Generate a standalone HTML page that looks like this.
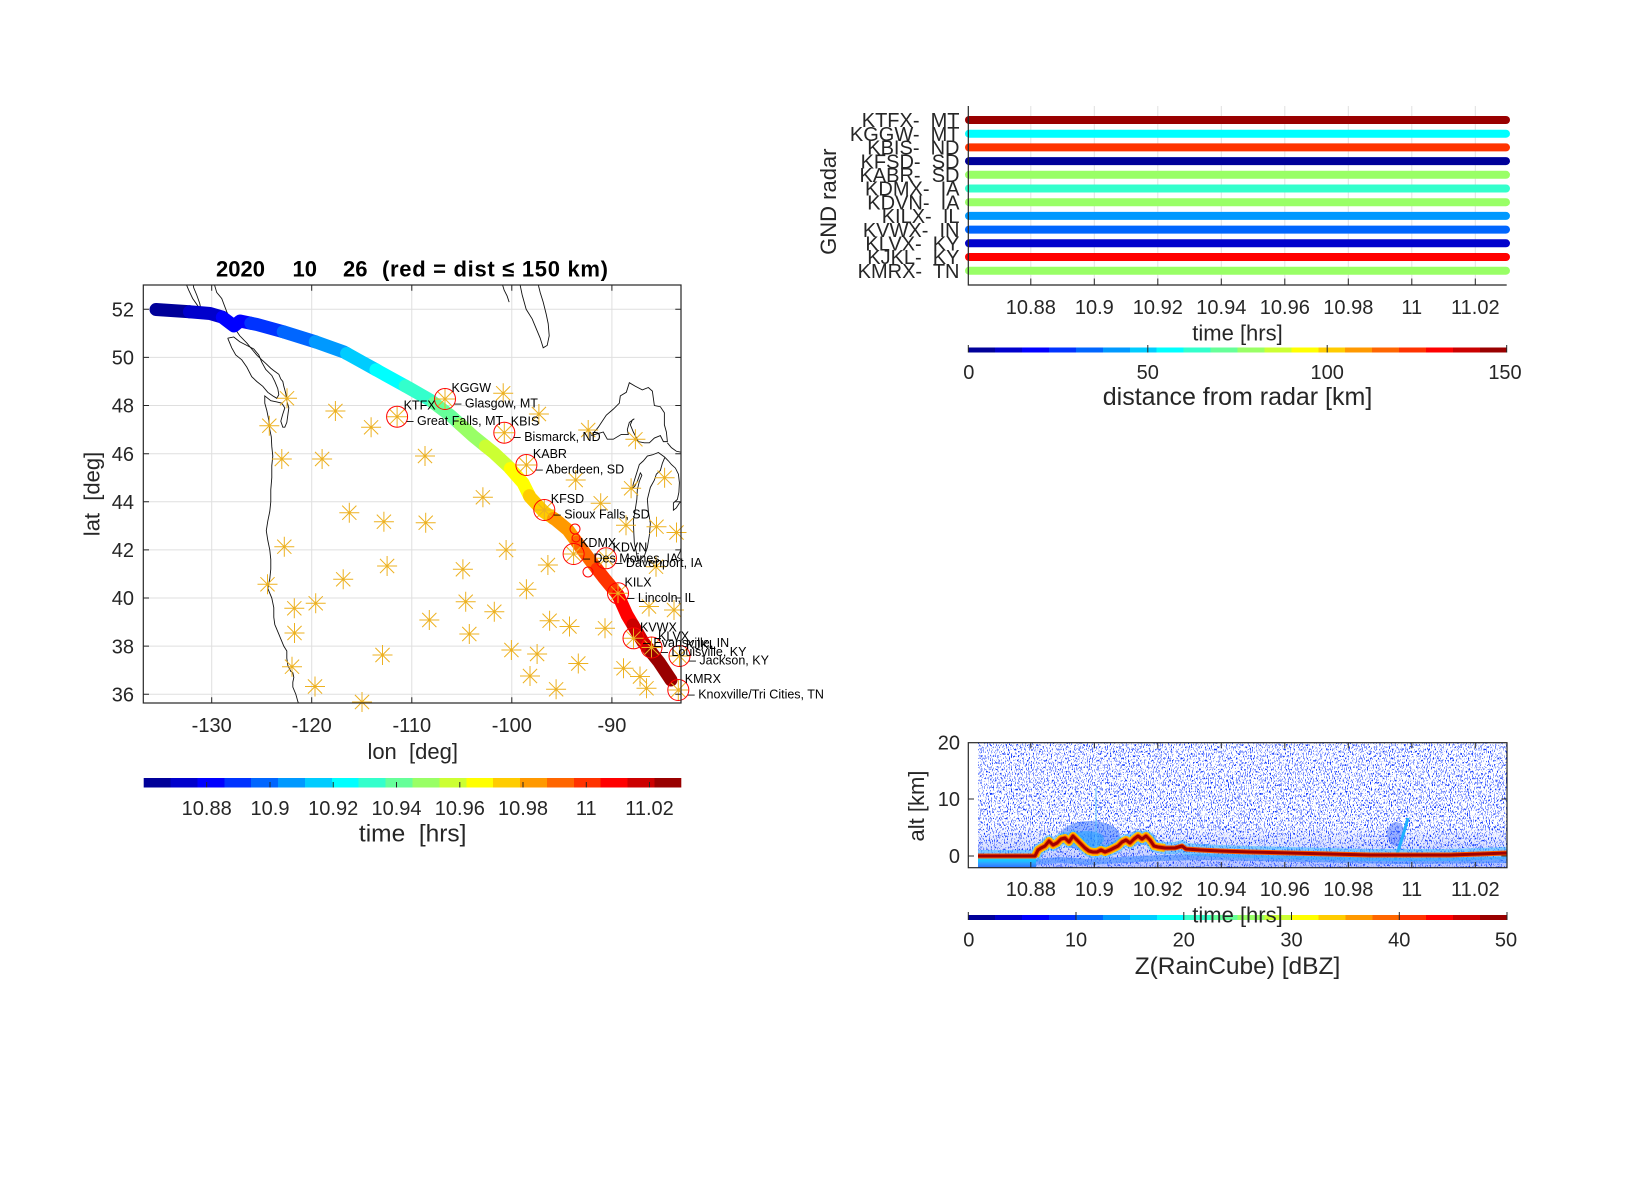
<!DOCTYPE html>
<html><head><meta charset="utf-8"><style>
html,body{margin:0;padding:0;background:#fff;}
svg{display:block;}
text{font-family:"Liberation Sans",Arial,sans-serif;fill:#262626;}
.pre{white-space:pre;}
</style></head><body>
<svg width="1650" height="1200" viewBox="0 0 1650 1200" xmlns="http://www.w3.org/2000/svg">
<defs>
<linearGradient id="jet" x1="0" y1="0" x2="1" y2="0">
<stop offset="0" stop-color="#000099"/><stop offset="0.05" stop-color="#000099"/>
<stop offset="0.05" stop-color="#0000cc"/><stop offset="0.1" stop-color="#0000cc"/>
<stop offset="0.1" stop-color="#0000ff"/><stop offset="0.15" stop-color="#0000ff"/>
<stop offset="0.15" stop-color="#0033ff"/><stop offset="0.2" stop-color="#0033ff"/>
<stop offset="0.2" stop-color="#0066ff"/><stop offset="0.25" stop-color="#0066ff"/>
<stop offset="0.25" stop-color="#0099ff"/><stop offset="0.3" stop-color="#0099ff"/>
<stop offset="0.3" stop-color="#00ccff"/><stop offset="0.35" stop-color="#00ccff"/>
<stop offset="0.35" stop-color="#00ffff"/><stop offset="0.4" stop-color="#00ffff"/>
<stop offset="0.4" stop-color="#33ffcc"/><stop offset="0.45" stop-color="#33ffcc"/>
<stop offset="0.45" stop-color="#66ff99"/><stop offset="0.5" stop-color="#66ff99"/>
<stop offset="0.5" stop-color="#99ff66"/><stop offset="0.55" stop-color="#99ff66"/>
<stop offset="0.55" stop-color="#ccff33"/><stop offset="0.6" stop-color="#ccff33"/>
<stop offset="0.6" stop-color="#ffff00"/><stop offset="0.65" stop-color="#ffff00"/>
<stop offset="0.65" stop-color="#ffcc00"/><stop offset="0.7" stop-color="#ffcc00"/>
<stop offset="0.7" stop-color="#ff9900"/><stop offset="0.75" stop-color="#ff9900"/>
<stop offset="0.75" stop-color="#ff6600"/><stop offset="0.8" stop-color="#ff6600"/>
<stop offset="0.8" stop-color="#ff3300"/><stop offset="0.85" stop-color="#ff3300"/>
<stop offset="0.85" stop-color="#ff0000"/><stop offset="0.9" stop-color="#ff0000"/>
<stop offset="0.9" stop-color="#cc0000"/><stop offset="0.95" stop-color="#cc0000"/>
<stop offset="0.95" stop-color="#990000"/><stop offset="1" stop-color="#990000"/>
</linearGradient>
<linearGradient id="gnd" x1="0" y1="0" x2="0" y2="1">
<stop offset="0" stop-color="#9aff70"/><stop offset="0.2" stop-color="#00e0ff"/><stop offset="0.55" stop-color="#30a0ff"/><stop offset="1" stop-color="#2b6cff"/>
</linearGradient>
<linearGradient id="bot" x1="0" y1="0" x2="0" y2="1">
<stop offset="0" stop-color="#2850ff" stop-opacity="0"/><stop offset="1" stop-color="#2850ff" stop-opacity="0.35"/>
</linearGradient>
<filter id="spk" filterUnits="userSpaceOnUse" x="978" y="743" width="530" height="125" color-interpolation-filters="sRGB">
<feTurbulence type="fractalNoise" baseFrequency="0.95 0.45" numOctaves="2" seed="4"/>
<feColorMatrix type="matrix" values="0 0 0 0 0.06  0 0 0 0 0.22  0 0 0 0 1  11 0 0 0 -6.2"/>
</filter>
<clipPath id="mapclip"><rect x="143.3" y="285" width="537.7" height="418"/></clipPath>
<clipPath id="zclip"><rect x="978" y="743" width="529" height="125"/></clipPath>
<path id="s" d="M-10,0H10M0,-10V10M-7.1,-7.1L7.1,7.1M-7.1,7.1L7.1,-7.1" stroke="#EDB120" stroke-width="1" fill="none"/>
<circle id="c" r="10.5" fill="none" stroke="#ff0000" stroke-width="1"/>
<path id="trk" pathLength="20" d="M156,309.5 L186,311.5 L210,313.5 L222,317 L230,323 L234,326 L240,321 L257,324.5 L284,332 L316,342 L344,352 L362,362 L380,372 L409,388 L430,400 L451,416 L473,436 L494,453 L509,467 L523,483 L530,497 L544,512 L556,520 L568,530 L590,560 L604,578 L618,595 L627,615 L643,642 L659,662 L671,680"/>
</defs>

<!-- ================= MAP ================= -->
<text x="216" y="276.7" font-size="22" font-weight="bold" style="fill:#000">2020</text>
<text x="292.5" y="276.7" font-size="22" font-weight="bold" style="fill:#000">10</text>
<text x="343" y="276.7" font-size="22" font-weight="bold" style="fill:#000">26</text>
<text x="382" y="276.7" font-size="22" font-weight="bold" style="fill:#000" textLength="226" lengthAdjust="spacing">(red = dist ≤ 150 km)</text>

<g stroke="#dfdfdf" stroke-width="1">
<line x1="211.7" y1="285" x2="211.7" y2="703"/><line x1="311.7" y1="285" x2="311.7" y2="703"/><line x1="411.8" y1="285" x2="411.8" y2="703"/><line x1="511.8" y1="285" x2="511.8" y2="703"/><line x1="611.9" y1="285" x2="611.9" y2="703"/>
<line x1="143.3" y1="309.3" x2="681" y2="309.3"/><line x1="143.3" y1="357.4" x2="681" y2="357.4"/><line x1="143.3" y1="405.5" x2="681" y2="405.5"/><line x1="143.3" y1="453.7" x2="681" y2="453.7"/><line x1="143.3" y1="501.8" x2="681" y2="501.8"/><line x1="143.3" y1="549.9" x2="681" y2="549.9"/><line x1="143.3" y1="598" x2="681" y2="598"/><line x1="143.3" y1="646.1" x2="681" y2="646.1"/><line x1="143.3" y1="694.3" x2="681" y2="694.3"/>
</g>

<g clip-path="url(#mapclip)">
<g transform="matrix(10.015,0,0,-24.06,1513.65,1560.42)" fill="none" stroke="#111" stroke-width="0.9">
<polyline vector-effect="non-scaling-stroke" points="-132.7,53.2 -132.3,52.8 -131.9,52.45 -131.4,52.15 -131.05,51.95 -131.2,52.25 -131.5,52.6 -131.8,52.9 -131.9,53.2"/>
<polyline vector-effect="non-scaling-stroke" points="-129.85,53.2 -129.5,52.7 -129.0,52.45 -128.5,51.9 -127.85,51.3 -127.2,50.9 -126.5,50.6 -125.5,50.1 -125.0,49.9 -124.6,49.75 -124.1,49.55 -123.8,49.45 -123.3,49.3 -123.1,49.1 -122.9,49.0 -122.8,48.8 -122.6,48.5 -122.5,48.2 -122.3,47.9 -122.4,47.6 -122.5,47.3 -122.7,47.1 -122.9,47.1 -123.1,47.35 -122.9,47.65 -122.7,47.9 -123.0,48.1 -123.5,48.15 -124.1,48.2 -124.7,48.4 -124.7,48.1 -124.5,47.8 -124.3,47.4 -124.2,47.0 -124.05,46.7 -124.0,46.3 -123.9,45.9 -124.0,45.5 -124.0,45.0 -124.1,44.5 -124.1,44.0 -124.2,43.6 -124.4,43.2 -124.55,42.8 -124.4,42.4 -124.2,42.0 -124.1,41.6 -124.1,41.2 -124.2,40.8 -124.4,40.4 -124.0,40.0 -123.8,39.6 -123.8,39.2 -123.7,38.9 -123.3,38.5 -123.0,38.2 -122.8,38.0 -122.5,37.8 -122.5,37.5 -122.4,37.2 -122.1,36.95 -121.9,36.9 -121.8,36.7 -121.9,36.5 -121.9,36.3 -121.6,36.0 -121.4,35.7 -121.1,35.4"/>
<polyline vector-effect="non-scaling-stroke" points="-128.4,50.8 -128.0,50.4 -127.6,50.1 -127.0,49.9 -126.5,49.6 -126.0,49.2 -125.5,49.0 -124.9,48.8 -124.4,48.55 -123.9,48.4 -123.5,48.3 -123.3,48.45 -123.4,48.7 -123.7,49.0 -124.0,49.25 -124.6,49.5 -125.0,49.8 -125.3,50.1 -125.8,50.35 -126.5,50.5 -127.2,50.65 -127.8,50.85 -128.4,50.8"/>
<polyline vector-effect="non-scaling-stroke" points="-99.3,53.2 -99.0,52.6 -98.6,52.0 -98.0,51.6 -97.6,51.2 -97.2,50.8 -96.9,50.4 -96.5,50.5 -96.3,50.9 -96.4,51.4 -96.6,51.8 -96.9,52.3 -97.2,52.7 -97.5,53.2"/>
<polyline vector-effect="non-scaling-stroke" points="-101.1,53.2 -100.8,52.8 -100.5,52.55 -100.3,52.3"/>
<polyline vector-effect="non-scaling-stroke" points="-92.1,46.75 -91.4,47.1 -90.6,47.6 -89.9,47.85 -89.3,48.1 -89.2,48.4 -88.6,48.55 -88.3,48.95 -87.7,48.8 -87.0,48.65 -86.4,48.75 -86.0,48.6 -85.8,48.0 -85.2,47.95 -84.8,47.7 -84.8,47.2 -84.6,46.9 -84.5,46.5 -84.9,46.5 -85.2,46.75 -85.8,46.65 -86.3,46.45 -86.8,46.45 -87.4,46.5 -87.9,46.9 -88.2,47.2 -88.0,47.4 -87.8,47.45 -88.3,47.3 -88.5,47.0 -88.4,46.8 -89.1,46.8 -89.9,46.6 -90.5,46.6 -90.9,46.9 -91.3,46.85 -92.1,46.75"/>
<polyline vector-effect="non-scaling-stroke" points="-84.75,45.85 -85.4,46.05 -86.0,45.95 -86.5,45.9 -86.9,45.7 -87.3,45.55 -87.6,45.15 -87.9,44.75 -88.0,44.55 -87.75,44.65 -87.5,44.85 -87.2,45.2 -87.05,45.1 -87.3,44.85 -87.5,44.5 -87.55,44.1 -87.7,43.7 -87.9,43.2 -87.85,42.7 -87.8,42.3 -87.6,41.9 -87.5,41.65 -87.2,41.6 -86.8,41.75 -86.5,42.1 -86.3,42.6 -86.2,43.1 -86.4,43.6 -86.5,44.1 -86.2,44.6 -85.8,44.9 -85.6,45.15 -85.2,45.3 -85.0,45.6 -84.75,45.85"/>
<polyline vector-effect="non-scaling-stroke" points="-84.5,46.45 -84.1,46.25 -83.6,46.1 -83.0,46.05"/>
<polyline vector-effect="non-scaling-stroke" points="-84.75,45.85 -84.4,45.7 -84.1,45.55 -83.7,45.4 -83.4,45.15 -83.3,44.8 -83.35,44.4 -83.5,44.1 -83.9,43.95 -83.9,43.65 -83.6,43.75 -83.3,43.95 -82.9,44.05"/>
<polyline vector-effect="non-scaling-stroke" points="-83.05,42.35 -83.1,42.2 -83.2,41.95 -83.5,41.7 -83.0,41.55"/>
</g>
</g>

<g fill="none" stroke-width="13" stroke-linecap="round" stroke-linejoin="round">
<use href="#trk" stroke="#000099" stroke-dasharray="1 40" stroke-dashoffset="0"/>
<use href="#trk" stroke="#0000cc" stroke-dasharray="1 40" stroke-dashoffset="-1"/>
<use href="#trk" stroke="#0000ff" stroke-dasharray="1 40" stroke-dashoffset="-2"/>
<use href="#trk" stroke="#0033ff" stroke-dasharray="1 40" stroke-dashoffset="-3"/>
<use href="#trk" stroke="#0066ff" stroke-dasharray="1 40" stroke-dashoffset="-4"/>
<use href="#trk" stroke="#0099ff" stroke-dasharray="1 40" stroke-dashoffset="-5"/>
<use href="#trk" stroke="#00ccff" stroke-dasharray="1 40" stroke-dashoffset="-6"/>
<use href="#trk" stroke="#00ffff" stroke-dasharray="1 40" stroke-dashoffset="-7"/>
<use href="#trk" stroke="#33ffcc" stroke-dasharray="1 40" stroke-dashoffset="-8"/>
<use href="#trk" stroke="#66ff99" stroke-dasharray="1 40" stroke-dashoffset="-9"/>
<use href="#trk" stroke="#99ff66" stroke-dasharray="1 40" stroke-dashoffset="-10"/>
<use href="#trk" stroke="#ccff33" stroke-dasharray="1 40" stroke-dashoffset="-11"/>
<use href="#trk" stroke="#ffff00" stroke-dasharray="1 40" stroke-dashoffset="-12"/>
<use href="#trk" stroke="#ffcc00" stroke-dasharray="1 40" stroke-dashoffset="-13"/>
<use href="#trk" stroke="#ff9900" stroke-dasharray="1 40" stroke-dashoffset="-14"/>
<use href="#trk" stroke="#ff6600" stroke-dasharray="1 40" stroke-dashoffset="-15"/>
<use href="#trk" stroke="#ff3300" stroke-dasharray="1 40" stroke-dashoffset="-16"/>
<use href="#trk" stroke="#ff0000" stroke-dasharray="1 40" stroke-dashoffset="-17"/>
<use href="#trk" stroke="#cc0000" stroke-dasharray="1 40" stroke-dashoffset="-18"/>
<use href="#trk" stroke="#990000" stroke-dasharray="1.2 40" stroke-dashoffset="-19"/>
</g>

<g>
<use href="#s" x="287" y="398.3"/><use href="#s" x="335.4" y="411"/><use href="#s" x="269.3" y="425.7"/><use href="#s" x="371.1" y="427.3"/>
<use href="#s" x="503.2" y="393.3"/><use href="#s" x="538.9" y="414"/><use href="#s" x="588.2" y="430"/><use href="#s" x="635.4" y="439.3"/>
<use href="#s" x="281.8" y="459"/><use href="#s" x="322.1" y="459"/><use href="#s" x="425" y="456"/><use href="#s" x="575.7" y="480"/>
<use href="#s" x="664.6" y="477.7"/><use href="#s" x="631.1" y="488.3"/><use href="#s" x="482.9" y="497.3"/><use href="#s" x="600.7" y="503.3"/>
<use href="#s" x="349.3" y="512.7"/><use href="#s" x="383.9" y="521.7"/><use href="#s" x="425.7" y="522.7"/><use href="#s" x="626" y="525.3"/>
<use href="#s" x="656.5" y="526.7"/><use href="#s" x="676.5" y="532.5"/><use href="#s" x="284.3" y="546.7"/><use href="#s" x="506.1" y="550"/>
<use href="#s" x="387.1" y="566"/><use href="#s" x="462.9" y="569.3"/><use href="#s" x="547.9" y="565"/><use href="#s" x="656" y="566.7"/>
<use href="#s" x="343.2" y="579.3"/><use href="#s" x="267.5" y="584.3"/><use href="#s" x="526.4" y="589.3"/><use href="#s" x="315.7" y="603.3"/>
<use href="#s" x="294.3" y="608.3"/><use href="#s" x="465.7" y="601.7"/><use href="#s" x="494.3" y="611.7"/><use href="#s" x="649" y="606.5"/>
<use href="#s" x="674" y="610"/><use href="#s" x="429.3" y="620"/><use href="#s" x="549.6" y="620.7"/><use href="#s" x="569.5" y="626.5"/>
<use href="#s" x="605" y="628.3"/><use href="#s" x="294.5" y="633"/><use href="#s" x="469.3" y="634"/><use href="#s" x="382.5" y="655"/>
<use href="#s" x="511.4" y="650"/><use href="#s" x="537.1" y="654"/><use href="#s" x="292" y="666.7"/><use href="#s" x="578.3" y="663.5"/>
<use href="#s" x="623.5" y="668.3"/><use href="#s" x="530" y="676"/><use href="#s" x="640" y="676.5"/><use href="#s" x="315" y="686.5"/>
<use href="#s" x="556.1" y="689.3"/><use href="#s" x="646.5" y="688.3"/><use href="#s" x="362" y="702"/>
<use href="#s" x="397.1" y="416.7"/><use href="#s" x="445" y="399"/><use href="#s" x="504.3" y="432.7"/><use href="#s" x="526.4" y="465"/>
<use href="#s" x="544.3" y="510"/><use href="#s" x="573.6" y="554"/><use href="#s" x="606" y="558.3"/><use href="#s" x="618" y="593.3"/>
<use href="#s" x="633.5" y="638.3"/><use href="#s" x="651.5" y="647.5"/><use href="#s" x="679.5" y="656"/><use href="#s" x="678.3" y="690"/>
</g>
<g>
<use href="#c" x="397.1" y="416.7"/><use href="#c" x="445" y="399"/><use href="#c" x="504.3" y="432.7"/><use href="#c" x="526.4" y="465"/>
<use href="#c" x="544.3" y="510"/><use href="#c" x="573.6" y="554"/><use href="#c" x="606" y="558.3"/><use href="#c" x="618" y="593.3"/>
<use href="#c" x="633.5" y="638.3"/><use href="#c" x="651.5" y="647.5"/><use href="#c" x="679.5" y="656"/><use href="#c" x="678.3" y="690"/>
<circle cx="575" cy="529" r="5" fill="none" stroke="#ff0000" stroke-width="1"/>
<circle cx="576" cy="538" r="4" fill="none" stroke="#ff0000" stroke-width="1"/>
<circle cx="588" cy="572" r="5" fill="none" stroke="#ff0000" stroke-width="1"/>
</g>
<g font-size="12.5">
<text x="403.6" y="409.7" style="fill:#000">KTFX</text><text x="406.6" y="425.2" style="fill:#000">– Great Falls, MT</text>
<text x="451.5" y="392" style="fill:#000">KGGW</text><text x="454.5" y="407.5" style="fill:#000">– Glasgow, MT</text>
<text x="510.8" y="425.7" style="fill:#000">KBIS</text><text x="513.8" y="441.2" style="fill:#000">– Bismarck, ND</text>
<text x="532.9" y="458" style="fill:#000">KABR</text><text x="535.9" y="473.5" style="fill:#000">– Aberdeen, SD</text>
<text x="550.8" y="503" style="fill:#000">KFSD</text><text x="553.8" y="518.5" style="fill:#000">– Sioux Falls, SD</text>
<text x="580.1" y="547" style="fill:#000">KDMX</text><text x="583.1" y="562.5" style="fill:#000">– Des Moines, IA</text>
<text x="612.5" y="551.3" style="fill:#000">KDVN</text><text x="615.5" y="566.8" style="fill:#000">– Davenport, IA</text>
<text x="624.5" y="586.3" style="fill:#000">KILX</text><text x="627.5" y="601.8" style="fill:#000">– Lincoln, IL</text>
<text x="640" y="631.3" style="fill:#000">KVWX</text><text x="643" y="646.8" style="fill:#000">– Evansville, IN</text>
<text x="658" y="640.5" style="fill:#000">KLVX</text><text x="661" y="656" style="fill:#000">– Louisville, KY</text>
<text x="686" y="649" style="fill:#000">KJKL</text><text x="689" y="664.5" style="fill:#000">– Jackson, KY</text>
<text x="684.8" y="683" style="fill:#000">KMRX</text><text x="687.8" y="698.5" style="fill:#000">– Knoxville/Tri Cities, TN</text>
</g>

<rect x="143.3" y="285" width="537.7" height="418" fill="none" stroke="#262626" stroke-width="1.2"/>
<g stroke="#262626" stroke-width="1">
<path d="M211.7,703V697.3M311.7,703V697.3M411.8,703V697.3M511.8,703V697.3M611.9,703V697.3"/>
<path d="M211.7,285V290.7M311.7,285V290.7M411.8,285V290.7M511.8,285V290.7M611.9,285V290.7"/>
<path d="M143.3,309.3H149M143.3,357.4H149M143.3,405.5H149M143.3,453.7H149M143.3,501.8H149M143.3,549.9H149M143.3,598H149M143.3,646.1H149M143.3,694.3H149"/>
<path d="M681,309.3H675.3M681,357.4H675.3M681,405.5H675.3M681,453.7H675.3M681,501.8H675.3M681,549.9H675.3M681,598H675.3M681,646.1H675.3M681,694.3H675.3"/>
</g>
<g font-size="20" text-anchor="end">
<text x="134" y="316.5">52</text><text x="134" y="364.6">50</text><text x="134" y="412.7">48</text><text x="134" y="460.9">46</text><text x="134" y="509">44</text><text x="134" y="557.1">42</text><text x="134" y="605.2">40</text><text x="134" y="653.3">38</text><text x="134" y="701.5">36</text>
</g>
<g font-size="20" text-anchor="middle">
<text x="211.7" y="732">-130</text><text x="311.7" y="732">-120</text><text x="411.8" y="732">-110</text><text x="511.8" y="732">-100</text><text x="611.9" y="732">-90</text>
</g>
<text class="pre" x="412.7" y="759" font-size="22" text-anchor="middle" xml:space="preserve">lon  [deg]</text>
<text class="pre" transform="translate(99.7,494) rotate(-90)" font-size="22" text-anchor="middle" xml:space="preserve">lat  [deg]</text>

<rect x="143.7" y="778" width="537.6" height="9.5" fill="url(#jet)"/>
<g stroke="#262626" stroke-width="1"><path d="M206.7,782V787.5M270,782V787.5M333.2,782V787.5M396.5,782V787.5M459.8,782V787.5M523,782V787.5M586.3,782V787.5M649.5,782V787.5"/></g>
<g font-size="20" text-anchor="middle">
<text x="206.7" y="814.9">10.88</text><text x="270" y="814.9">10.9</text><text x="333.2" y="814.9">10.92</text><text x="396.5" y="814.9">10.94</text><text x="459.8" y="814.9">10.96</text><text x="523" y="814.9">10.98</text><text x="586.3" y="814.9">11</text><text x="649.5" y="814.9">11.02</text>
</g>
<text class="pre" x="412.7" y="841.4" font-size="24.5" text-anchor="middle" xml:space="preserve">time  [hrs]</text>

<!-- ================= TOP RIGHT ================= -->
<g stroke="#e0e0e0" stroke-width="1">
<path d="M1030.8,106V285M1094.3,106V285M1157.8,106V285M1221.3,106V285M1284.8,106V285M1348.3,106V285M1411.8,106V285M1475.3,106V285"/>
</g>
<g stroke-width="8" stroke-linecap="round">
<line x1="969" y1="120" x2="1506" y2="120" stroke="#990000"/>
<line x1="969" y1="133.7" x2="1506" y2="133.7" stroke="#00ffff"/>
<line x1="969" y1="147.4" x2="1506" y2="147.4" stroke="#ff3300"/>
<line x1="969" y1="161.1" x2="1506" y2="161.1" stroke="#000099"/>
<line x1="969" y1="174.8" x2="1506" y2="174.8" stroke="#99ff66"/>
<line x1="969" y1="188.5" x2="1506" y2="188.5" stroke="#33ffcc"/>
<line x1="969" y1="202.2" x2="1506" y2="202.2" stroke="#99ff66"/>
<line x1="969" y1="215.9" x2="1506" y2="215.9" stroke="#0099ff"/>
<line x1="969" y1="229.6" x2="1506" y2="229.6" stroke="#0066ff"/>
<line x1="969" y1="243.3" x2="1506" y2="243.3" stroke="#0000cc"/>
<line x1="969" y1="257" x2="1506" y2="257" stroke="#ff0000"/>
<line x1="969" y1="270.7" x2="1506" y2="270.7" stroke="#99ff66"/>
</g>
<g stroke="#262626" stroke-width="1.2" fill="none">
<path d="M968.3,106V285H1506.7"/>
</g>
<g stroke="#262626" stroke-width="1"><path d="M1030.8,285V278.5M1094.3,285V278.5M1157.8,285V278.5M1221.3,285V278.5M1284.8,285V278.5M1348.3,285V278.5M1411.8,285V278.5M1475.3,285V278.5"/></g>
<g font-size="20" text-anchor="end" xml:space="preserve">
<text class="pre" x="959.5" y="127.2">KTFX-  MT</text>
<text class="pre" x="959.5" y="140.9">KGGW-  MT</text>
<text class="pre" x="959.5" y="154.6">KBIS-  ND</text>
<text class="pre" x="959.5" y="168.3">KFSD-  SD</text>
<text class="pre" x="959.5" y="182">KABR-  SD</text>
<text class="pre" x="959.5" y="195.7">KDMX-  IA</text>
<text class="pre" x="959.5" y="209.4">KDVN-  IA</text>
<text class="pre" x="959.5" y="223.1">KILX-  IL</text>
<text class="pre" x="959.5" y="236.8">KVWX-  IN</text>
<text class="pre" x="959.5" y="250.5">KLVX-  KY</text>
<text class="pre" x="959.5" y="264.2">KJKL-  KY</text>
<text class="pre" x="959.5" y="277.9">KMRX-  TN</text>
</g>
<text transform="translate(836.2,201.7) rotate(-90)" font-size="22" text-anchor="middle">GND radar</text>
<g font-size="20" text-anchor="middle">
<text x="1030.8" y="313.9">10.88</text><text x="1094.3" y="313.9">10.9</text><text x="1157.8" y="313.9">10.92</text><text x="1221.3" y="313.9">10.94</text><text x="1284.8" y="313.9">10.96</text><text x="1348.3" y="313.9">10.98</text><text x="1411.8" y="313.9">11</text><text x="1475.3" y="313.9">11.02</text>
</g>
<text x="1237.5" y="340.7" font-size="22" text-anchor="middle">time [hrs]</text>
<rect x="968.3" y="347.5" width="538.4" height="5" fill="url(#jet)"/>
<g stroke="#262626" stroke-width="1"><path d="M968.3,345V352.5M1147.8,345V352.5M1327.2,345V352.5M1506.7,345V352.5"/></g>
<g font-size="20" text-anchor="middle">
<text x="968.8" y="378.9">0</text><text x="1147.8" y="378.9">50</text><text x="1327.2" y="378.9">100</text><text x="1505" y="378.9">150</text>
</g>
<text x="1237.5" y="404.8" font-size="25" text-anchor="middle">distance from radar [km]</text>

<!-- ================= BOTTOM RIGHT ================= -->
<g clip-path="url(#zclip)">
<rect x="978" y="743" width="529" height="125" fill="#fff"/>
<rect x="978" y="743" width="530" height="125" fill="#000" filter="url(#spk)"/>
<rect x="978" y="826" width="529" height="42" fill="url(#bot)"/>
<ellipse cx="1090" cy="836" rx="30" ry="15" fill="#2a6cff" opacity="0.5"/>
<ellipse cx="1087" cy="839" rx="17" ry="8" fill="#1ea0ff" opacity="0.55"/>
<ellipse cx="1140" cy="838" rx="16" ry="7" fill="#3a80ff" opacity="0.4"/>
<line x1="1096" y1="788" x2="1096" y2="862" stroke="#60c0ff" stroke-width="1.3" opacity="0.8"/>
<ellipse cx="1396" cy="834" rx="9" ry="12" fill="#3060ff" opacity="0.45"/>
<path d="M1395,860 L1400,845 L1404,832 L1408,818" stroke="#20b0ff" stroke-width="3" fill="none"/>
<rect x="978" y="857.5" width="58" height="10.5" fill="url(#gnd)"/>
<path d="M1036,862 L1060,860 L1090,862 L1120,860 L1160,858 L1200,857 L1300,859 L1400,861 L1507,860" stroke="#3d8bff" stroke-width="6" fill="none" opacity="0.6"/>
<path d="M978,856 L1035,856 L1038,850 L1041,848 L1045,846 L1049,841 L1053,845 L1057,843 L1061,839 L1065,838 L1069,842 L1073,836 L1077,840 L1081,844 L1085,848 L1089,851 L1093,852 L1097,852 L1101,850 L1105,852 L1110,850 L1114,848 L1118,846 L1122,842 L1126,840 L1130,843 L1134,839 L1138,836 L1142,839 L1146,836 L1150,840 L1154,846 L1158,847 L1165,848 L1175,848 L1182,846 L1186,849 L1200,850 L1220,851 L1250,852 L1290,853 L1330,854 L1370,855 L1410,855 L1450,855 L1480,854 L1507,853" stroke="#29b6ff" stroke-width="12" fill="none" opacity="0.5" stroke-linejoin="round"/>
<path d="M1035,856 L1038,850 L1041,848 L1045,846 L1049,841 L1053,845 L1057,843 L1061,839 L1065,838 L1069,842 L1073,836 L1077,840 L1081,844 L1085,848 L1089,851 L1093,852 L1097,852 L1101,850 L1105,852 L1110,850 L1114,848 L1118,846 L1122,842 L1126,840 L1130,843 L1134,839 L1138,836 L1142,839 L1146,836 L1150,840 L1154,846 L1158,847 L1165,848" stroke="#ffc000" stroke-width="8" fill="none" stroke-linejoin="round"/>
<path d="M978,856 L1035,856 L1038,850 L1041,848 L1045,846 L1049,841 L1053,845 L1057,843 L1061,839 L1065,838 L1069,842 L1073,836 L1077,840 L1081,844 L1085,848 L1089,851 L1093,852 L1097,852 L1101,850 L1105,852 L1110,850 L1114,848 L1118,846 L1122,842 L1126,840 L1130,843 L1134,839 L1138,836 L1142,839 L1146,836 L1150,840 L1154,846 L1158,847 L1165,848 L1175,848 L1182,846 L1186,849 L1200,850 L1220,851 L1250,852 L1290,853 L1330,854 L1370,855 L1410,855 L1450,855 L1480,854 L1507,853" stroke="#ff5a00" stroke-width="5" fill="none" stroke-linejoin="round"/>
<path d="M978,856 L1035,856 L1038,850 L1041,848 L1045,846 L1049,841 L1053,845 L1057,843 L1061,839 L1065,838 L1069,842 L1073,836 L1077,840 L1081,844 L1085,848 L1089,851 L1093,852 L1097,852 L1101,850 L1105,852 L1110,850 L1114,848 L1118,846 L1122,842 L1126,840 L1130,843 L1134,839 L1138,836 L1142,839 L1146,836 L1150,840 L1154,846 L1158,847 L1165,848 L1175,848 L1182,846 L1186,849 L1200,850 L1220,851 L1250,852 L1290,853 L1330,854 L1370,855 L1410,855 L1450,855 L1480,854 L1507,853" stroke="#a00000" stroke-width="3" fill="none" stroke-linejoin="round"/>
</g>
<rect x="968.3" y="742.7" width="538.7" height="125" fill="none" stroke="#262626" stroke-width="1.2"/>
<g stroke="#262626" stroke-width="1">
<path d="M1030.8,867.7V862M1094.3,867.7V862M1157.8,867.7V862M1221.3,867.7V862M1284.8,867.7V862M1348.3,867.7V862M1411.8,867.7V862M1475.3,867.7V862"/>
<path d="M1030.8,742.7V748.4M1094.3,742.7V748.4M1157.8,742.7V748.4M1221.3,742.7V748.4M1284.8,742.7V748.4M1348.3,742.7V748.4M1411.8,742.7V748.4M1475.3,742.7V748.4"/>
<path d="M968.3,799H974M968.3,856H974M1507,799H1501.3M1507,856H1501.3"/>
</g>
<g font-size="20" text-anchor="end">
<text x="960" y="749.7">20</text><text x="960" y="806.2">10</text><text x="960" y="863.2">0</text>
</g>
<text transform="translate(924,806) rotate(-90)" font-size="22" text-anchor="middle">alt [km]</text>
<g font-size="20" text-anchor="middle">
<text x="1030.8" y="896.2">10.88</text><text x="1094.3" y="896.2">10.9</text><text x="1157.8" y="896.2">10.92</text><text x="1221.3" y="896.2">10.94</text><text x="1284.8" y="896.2">10.96</text><text x="1348.3" y="896.2">10.98</text><text x="1411.8" y="896.2">11</text><text x="1475.3" y="896.2">11.02</text>
</g>
<rect x="968.3" y="915" width="538.7" height="5" fill="url(#jet)"/>
<g stroke="#262626" stroke-width="1"><path d="M968.3,912V920M1076,912V920M1183.8,912V920M1291.5,912V920M1399.3,912V920M1507,912V920"/></g>
<text x="1237.5" y="922.4" font-size="22" text-anchor="middle">time [hrs]</text>
<g font-size="20" text-anchor="middle">
<text x="968.8" y="946.5">0</text><text x="1076" y="946.5">10</text><text x="1183.8" y="946.5">20</text><text x="1291.5" y="946.5">30</text><text x="1399.3" y="946.5">40</text><text x="1506" y="946.5">50</text>
</g>
<text x="1237.5" y="974" font-size="24.5" text-anchor="middle">Z(RainCube) [dBZ]</text>
</svg>
</body></html>
